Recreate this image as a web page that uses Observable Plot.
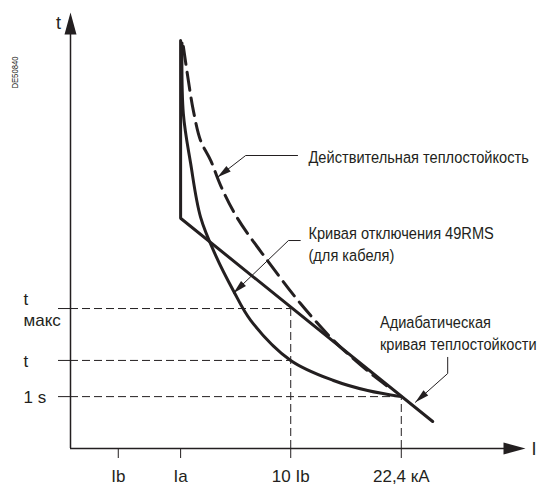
<!DOCTYPE html>
<html><head><meta charset="utf-8">
<script src="https://cdn.jsdelivr.net/npm/d3@7"></script>
<script src="https://cdn.jsdelivr.net/npm/@observablehq/plot@0.6"></script>
<style>body{margin:0;background:#fff}</style>
</head><body><div id="chart"></div>
<script>
// ---- data (abstract units 0..100 on both axes) ----
const xTickValues = [10.5, 24.2, 48.4, 72.7];
const xTickLabels = ["Ib", "Ia", "10 Ib", "22,4 кА"];
const yTickValues = [32.1, 20.2, 11.9];
const yTickLabels = ["t\nмакс", "t", "1 s"];

// adiabatic thermal-withstand curve (vertical at Ia, then straight)
const adiabX = [24.2, 24.2, 79.6];
const adiabY = [93.6, 52.8, 6.2];
// 49RMS trip curve
const tripX = [24.5, 24.8, 26.4, 28.6, 31.9, 35.8, 39.6, 48.4, 57.8, 65.3, 72.7];
const tripY = [93.0, 76.8, 65.4, 53.0, 44.3, 36.2, 29.4, 20.2, 15.6, 13.3, 11.9];
// actual thermal withstand (dashed)
const realX = [24.8, 25.9, 27.0, 28.6, 30.8, 33.0, 36.7, 43.3, 50.5, 57.8, 62.6, 66.6, 69.5];
const realY = [92.2, 84.4, 77.5, 70.6, 66.1, 60.3, 52.8, 43.1, 33.3, 24.8, 20.2, 16.7, 14.4];

// annotation leaders (last point = arrow tip)
const lead1X = [49.9, 38.5, 32.3], lead1Y = [67.2, 67.2, 62.2];
const lead2X = [50.5, 47.9, 35.8], lead2Y = [47.7, 47.7, 35.6];
const lead3X = [82.9, 82.9, 75.8], lead3Y = [20.9, 17.2, 10.6];
const noteX = [52.3, 52.3, 68.0];
const noteY = [67.2, 47.2, 26.7];
const noteText = ["Действительная теплостойкость", "Кривая отключения 49RMS\n(для кабеля)", "Адиабатическая\nкривая теплостойкости"];

// ---- layout ----
const W = 538, H = 485;
const mL = 70, mR = 13, mT = 12, mB = 37;
const ink = "#231f20";
const font = "'Liberation Sans', Arial, Helvetica, sans-serif";
const narrowScale = 0.86;

const kx = (W - mL - mR) / 100, ky = (H - mT - mB) / 100;
const pts = (xs, ys) => xs.map((x, i) => ({x, y: ys[i]}));
const leaders = [[lead1X, lead1Y], [lead2X, lead2Y], [lead3X, lead3Y]];
const tips = leaders.map(([xs, ys]) => {
  const n = xs.length;
  const ang = Math.atan2(-(ys[n-1] - ys[n-2]) * ky, (xs[n-1] - xs[n-2]) * kx) * 180 / Math.PI;
  return {x: xs[n-1], y: ys[n-1], a: ang + 90};
});

const chart = Plot.plot({
  width: W, height: H,
  marginLeft: mL, marginRight: mR, marginTop: mT, marginBottom: mB,
  style: {fontFamily: font, color: ink, background: "#fff"},
  x: {domain: [0, 100], ticks: xTickValues, tickSize: 10, tickFormat: () => "", label: null},
  y: {domain: [0, 100], ticks: yTickValues, tickSize: 12, tickFormat: () => "", label: null},
  marks: [
    // thin dashed guides
    Plot.ruleY(yTickValues, {y: d => d, x1: 0, x2: (d, i) => i === 2 ? xTickValues[3] : xTickValues[2], stroke: ink, strokeWidth: 1, strokeDasharray: "8,4"}),
    Plot.ruleX([xTickValues[2], xTickValues[3]], {x: d => d, y1: 0, y2: (d, i) => i === 0 ? yTickValues[0] : yTickValues[2], stroke: ink, strokeWidth: 1, strokeDasharray: "8,4"}),
    // axes
    Plot.ruleX([0], {y1: 0, y2: 96, stroke: ink, strokeWidth: 1.5}),
    Plot.ruleY([0], {x1: 0, x2: 96, stroke: ink, strokeWidth: 1.5}),
    Plot.vector([{x: 0, y: 100, a: 0}, {x: 100, y: 0, a: 90}], {x: "x", y: "y", rotate: "a", length: 22, r: 6, shape: "spike", anchor: "end", fill: ink, stroke: "none"}),
    // curves
    Plot.line(pts(realX, realY), {x: "x", y: "y", curve: "catmull-rom", stroke: ink, strokeWidth: 3, strokeDasharray: "18,8"}),
    Plot.line(pts(tripX, tripY), {x: "x", y: "y", curve: "catmull-rom", stroke: ink, strokeWidth: 3}),
    Plot.line(pts(adiabX, adiabY), {x: "x", y: "y", stroke: ink, strokeWidth: 3, strokeLinejoin: "miter"}),
    // leaders
    ...leaders.map(([xs, ys]) => Plot.line(pts(xs, ys), {x: "x", y: "y", stroke: ink, strokeWidth: 1})),
    Plot.vector(tips, {x: "x", y: "y", rotate: "a", length: 14, r: 3.5, shape: "spike", anchor: "end", fill: ink, stroke: "none"}),
    // notes
    Plot.text(noteText, {x: (d, i) => noteX[i], y: (d, i) => noteY[i], text: d => d, textAnchor: "start", lineAnchor: "middle", lineHeight: 1.3, fontSize: 17, fill: ink, ariaDescription: "notes"}),
    // tick labels
    Plot.text(xTickLabels, {x: (d, i) => xTickValues[i], y: 0, text: d => d, dy: 28, lineAnchor: "middle", fontSize: 17, fill: ink}),
    Plot.text(yTickLabels, {x: 0, y: (d, i) => yTickValues[i], text: d => d, dx: -47, textAnchor: "start", lineAnchor: "middle", lineHeight: 1.25, fontSize: 17, fill: ink}),
    // axis names
    Plot.text(["t"], {frameAnchor: "top-left", text: d => d, dx: -12, dy: 11, textAnchor: "middle", lineAnchor: "middle", fontSize: 18, fill: ink}),
    Plot.text(["I"], {frameAnchor: "bottom-right", text: d => d, dx: 6, dy: 1, textAnchor: "start", lineAnchor: "middle", fontSize: 18, fill: ink}),
    Plot.text(["DE50840"], {frameAnchor: "top-left", text: d => d, dx: -55.5, dy: 60, rotate: -90, textAnchor: "middle", lineAnchor: "middle", fontSize: 9, fill: ink, ariaDescription: "code"})
  ]
});
// condensed look of the annotation font (horizontal compression)
d3.select(chart).selectAll("g[aria-description=notes] text, g[aria-description=code] text").each(function() {
  const t = this.getAttribute("transform") || "";
  this.setAttribute("transform", t + ` scale(${narrowScale},1)`);
});
document.getElementById("chart").appendChild(chart);
</script></body></html>
